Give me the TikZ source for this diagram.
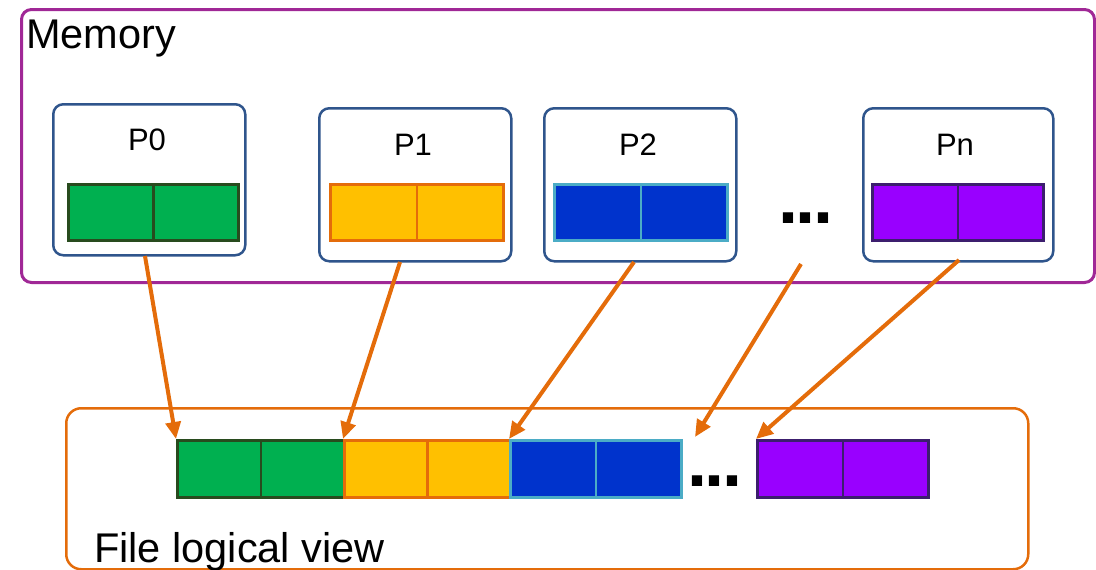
\documentclass[tikz,border=0pt]{standalone}
\usepackage{fontspec}
\setmainfont{Liberation Sans}
\usetikzlibrary{arrows.meta}
\definecolor{memc}{RGB}{160,40,150}
\definecolor{boxc}{RGB}{47,85,140}
\definecolor{arrc}{RGB}{228,108,10}
\definecolor{gfill}{RGB}{0,176,80}
\definecolor{gdraw}{RGB}{40,75,30}
\definecolor{yfill}{RGB}{255,192,0}
\definecolor{ydraw}{RGB}{228,108,10}
\definecolor{bfill}{RGB}{0,51,204}
\definecolor{bdraw}{RGB}{75,172,198}
\definecolor{pfill}{RGB}{153,0,255}
\definecolor{pdraw}{RGB}{60,30,110}
\begin{document}
\begin{tikzpicture}[x=1pt,y=-1pt,
  pbox/.style={draw=boxc, line width=2.5pt, rounded corners=10pt, anchor=north west, inner sep=0pt, minimum width=192pt, minimum height=153pt},
  bar/.style={line width=2.5pt, anchor=north west, inner sep=0pt, minimum height=56pt},
  divider/.style={line width=2.5pt},
  plabel/.style={anchor=base, inner sep=0pt, font=\fontsize{31}{36}\selectfont},
  biglabel/.style={anchor=base west, inner sep=0pt, font=\fontsize{41.5}{48}\selectfont},
  dots/.style={anchor=base west, inner sep=0pt, font=\bfseries\fontsize{72}{80}\selectfont},
  link/.style={draw=arrc, line width=4pt, -{Triangle[length=17pt,width=15pt]}},
]
\useasboundingbox (0,0) rectangle (1096,570);
% Memory frame
\node[draw=memc, line width=3pt, rounded corners=10pt, minimum width=1073pt, minimum height=273pt, anchor=north west, inner sep=0pt] (mem) at (20,8) {};
\node[biglabel] (memlbl) at (26,48) {Memory};
% process boxes
\node[pbox, minimum height=151pt] (p0) at (52,103) {};
\node[pbox] (p1) at (318,107) {};
\node[pbox] (p2) at (543,107) {};
\node[pbox, minimum width=190pt] (pn) at (862,107) {};
\node[plabel] (l0) at (147,150) {P0};
\node[plabel] (l1) at (413,155) {P1};
\node[plabel] (l2) at (638,155) {P2};
\node[plabel] (ln) at (955,155) {Pn};
% bars in memory
\node[bar, fill=gfill, draw=gdraw, minimum width=170pt] (b0) at (67,183) {};
\draw[divider, gdraw] (b0.north) -- (b0.south);
\node[bar, fill=yfill, draw=ydraw, minimum width=173pt] (b1) at (329,183) {};
\draw[divider, ydraw] (b1.north) -- (b1.south);
\node[bar, fill=bfill, draw=bdraw, minimum width=173pt] (b2) at (553,183) {};
\draw[divider, bdraw] (b2.north) -- (b2.south);
\node[bar, fill=pfill, draw=pdraw, minimum width=171pt] (bn) at (871,183) {};
\draw[divider, pdraw] (bn.north) -- (bn.south);
\node[dots] (md) at (778,223) {.\kern-2.5pt.\kern-2.5pt.};
% file frame
\node[draw=arrc, line width=2.5pt, rounded corners=15pt, minimum width=962pt, minimum height=161pt, anchor=north west, inner sep=0pt] (file) at (65,407) {};
\node[biglabel] (filelbl) at (94,562) {File logical view};
% file bars
\node[bar, fill=gfill, draw=gdraw, minimum width=167pt, minimum height=57pt] (f0) at (176,439) {};
\draw[divider, gdraw] (f0.north) -- (f0.south);
\node[bar, fill=yfill, draw=ydraw, minimum width=166pt, minimum height=57pt] (f1) at (343,439) {};
\draw[divider, ydraw] (f1.north) -- (f1.south);
\node[bar, fill=bfill, draw=bdraw, minimum width=171pt, minimum height=57pt] (f2) at (509,439) {};
\draw[divider, bdraw] (f2.north) -- (f2.south);
\node[bar, fill=pfill, draw=pdraw, minimum width=171pt, minimum height=57pt] (fn) at (756,439) {};
\draw[divider, pdraw] (fn.north) -- (fn.south);
\node[dots] (fd) at (687,486) {.\kern-2.5pt.\kern-2.5pt.};
% arrows
\coordinate (s0) at (145,256);
\coordinate (s1) at (400,262);
\coordinate (s2) at (634,262);
\coordinate (s3) at (801,264);
\coordinate (s4) at (959,260);
\coordinate (e3) at (695,437);
\draw[link] (s0) -- (f0.north west);
\draw[link] (s1) -- (f1.north west);
\draw[link] (s2) -- (f2.north west);
\draw[link] (s3) -- (e3);
\draw[link] (s4) -- (fn.north west);
\end{tikzpicture}
\end{document}
